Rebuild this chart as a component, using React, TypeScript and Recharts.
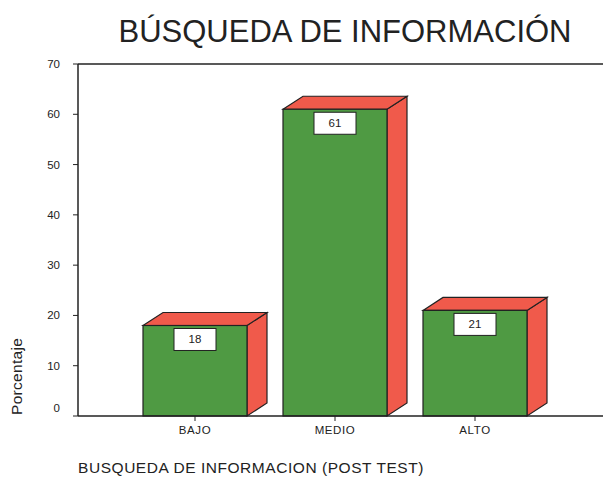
import { BarChart, Bar, XAxis, YAxis, ReferenceLine, LabelList } from "recharts";

// Datos
const categories = ["BAJO", "MEDIO", "ALTO"];
const porcentajes = [18, 61, 21];
const yTicks = [0, 10, 20, 30, 40, 50, 60, 70];

const data = categories.map((nivel, i) => ({ nivel, valor: porcentajes[i] }));

const GREEN = "#4f9a43";
const RED = "#f05a4b";
const INK = "#222";
const DX = 20;
const DY = 13;

// Barra con efecto 3D (cara frontal, lateral y superior)
const Bar3D = (props: any) => {
  const { x, y, width, height } = props;
  if (height <= 0) return null;
  const side = `${x + width},${y} ${x + width + DX},${y - DY} ${x + width + DX},${y + height - DY} ${x + width},${y + height}`;
  const top = `${x},${y} ${x + DX},${y - DY} ${x + width + DX},${y - DY} ${x + width},${y}`;
  return (
    <g>
      <polygon points={side} fill={RED} stroke={INK} strokeWidth={1.2} />
      <polygon points={top} fill={RED} stroke={INK} strokeWidth={1.2} />
      <rect x={x} y={y} width={width} height={height} fill={GREEN} stroke={INK} strokeWidth={1.2} />
    </g>
  );
};

// Etiqueta en caja blanca
const BoxLabel = (props: any) => {
  const { x, y, width, value } = props;
  const cx = x + width / 2;
  return (
    <g>
      <rect x={cx - 21} y={y + 3} width={42} height={22} fill="#fff" stroke={INK} strokeWidth={1} />
      <text x={cx} y={y + 14} textAnchor="middle" dominantBaseline="central" fontSize={11.5} fill={INK} fontFamily="Arial, 'Liberation Sans', sans-serif">
        {value}
      </text>
    </g>
  );
};

const YTick = ({ x, y, payload }: any) => (
  <text x={x} y={y} dy={payload.value === 0 ? -8 : 0} textAnchor="end" dominantBaseline="central" fontSize={11.5} fill={INK} fontFamily="Arial, 'Liberation Sans', sans-serif">
    {payload.value}
  </text>
);

export default function App() {
  const font = "Arial, 'Liberation Sans', sans-serif";
  return (
    <div style={{ position: "absolute", left: 0, top: 0, width: 603, height: 477, background: "#fff", fontFamily: font }}>
      <div style={{ position: "absolute", left: 0, width: 690, top: 16, textAlign: "center", fontSize: 31, lineHeight: "31px", color: INK }}>
        BÚSQUEDA DE INFORMACIÓN
      </div>
      <BarChart width={603} height={477} data={data} margin={{ top: 64, right: 0, bottom: 31, left: 48 }}>
        <ReferenceLine y={70} stroke={INK} strokeWidth={1.5} />
        <YAxis
          width={30}
          domain={[0, 70]}
          ticks={yTicks}
          interval={0}
          tick={<YTick />}
          tickSize={5}
          tickMargin={13}
          axisLine={{ stroke: INK, strokeWidth: 1.5 }}
          tickLine={{ stroke: INK }}
          label={{
            content: () => (
              <text transform="translate(22,415) rotate(-90)" textAnchor="start" fontSize={15.5} letterSpacing={0.3} fill={INK} fontFamily={font}>
                Porcentaje
              </text>
            ),
          }}
        />
        <XAxis
          dataKey="nivel"
          height={30}
          padding={{ left: 47, right: 58 }}
          tickSize={5}
          tickMargin={5}
          tick={{ fontSize: 11.5, fill: INK, fontFamily: font, letterSpacing: 0.6 }}
          axisLine={{ stroke: INK, strokeWidth: 1.5 }}
          tickLine={{ stroke: INK }}
        />
        <Bar dataKey="valor" barSize={104} shape={<Bar3D />} isAnimationActive={false}>
          <LabelList dataKey="valor" content={<BoxLabel />} />
        </Bar>
      </BarChart>
      <div style={{ position: "absolute", left: 78, top: 460, fontSize: 15.5, letterSpacing: 0.55, lineHeight: "15px", color: INK, whiteSpace: "nowrap" }}>
        BUSQUEDA DE INFORMACION (POST TEST)
      </div>
    </div>
  );
}
